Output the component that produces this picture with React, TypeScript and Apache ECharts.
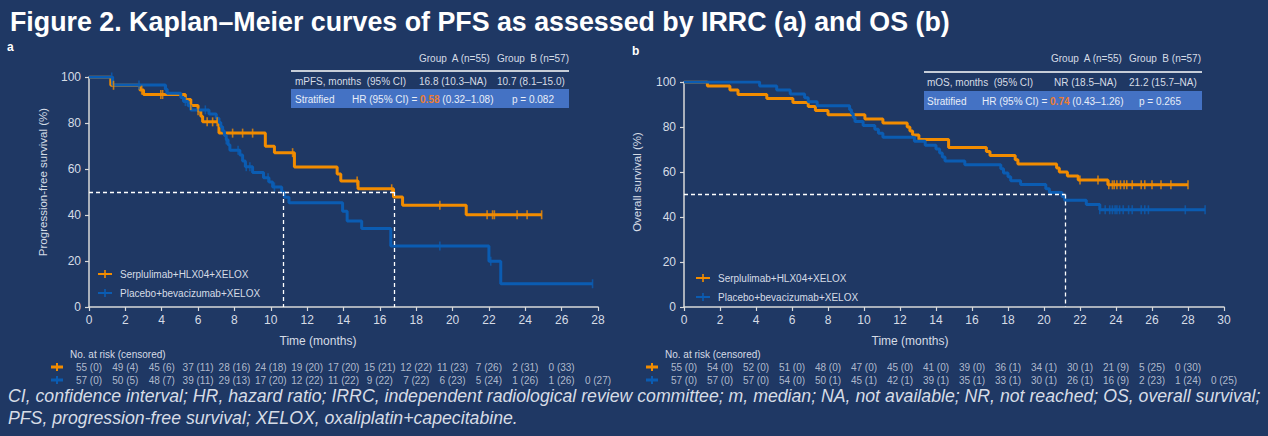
import React, { useEffect, useRef } from "react";
import * as echarts from "echarts";

// ---------- data ----------
const nameA = "Serplulimab+HLX04+XELOX";
const nameB = "Placebo+bevacizumab+XELOX";

// PFS (a) step curves [months, %]
const pfsA: number[][] = [
  [0, 100], [1.2, 96.4], [2.8, 94.3], [3.0, 92.4], [5.3, 90.2], [5.6, 87.6], [6.0, 85.3],
  [6.15, 82.9], [6.25, 80.5], [7.15, 75.6], [9.7, 69.9], [10.2, 67.1], [11.3, 60.9],
  [13.65, 57.8], [13.85, 54.8], [14.8, 51.4], [16.75, 47.8], [17.25, 44.2], [20.75, 40.1], [24.9, 40.1],
];
const pfsACensor: number[] = [1.35, 2.9, 3.95, 4.05, 5.6, 6.0, 6.5, 6.8, 7.05, 7.9, 8.45, 9.0, 11.2, 14.75, 16.65, 19.3, 21.9, 22.2, 22.3, 23.55, 24.1, 24.9];
const pfsB: number[][] = [
  [0, 100], [1.3, 96.5], [4.2, 94.7], [4.3, 92.9], [5.05, 91.1], [5.2, 89.3], [5.45, 87.5], [5.6, 85.7],
  [6.6, 83.9], [7.0, 82.1], [7.15, 80.2], [7.25, 78.4], [7.35, 76.5], [7.45, 74.6], [7.55, 72.7],
  [7.65, 70.5], [7.75, 68.1], [8.3, 66.1], [8.45, 63.5], [8.6, 61.0], [9.0, 58.5], [9.6, 56.2],
  [9.9, 54.3], [10.1, 52.2], [10.6, 50.0], [10.75, 47.7], [11.0, 45.3], [13.95, 41.6], [14.2, 37.4],
  [15.0, 34.1], [16.6, 26.5], [22.0, 19.9], [22.65, 10.1], [27.7, 10.1],
];
const pfsBCensor: number[] = [1.25, 2.75, 4.25, 5.3, 6.4, 7.55, 8.2, 8.65, 8.85, 9.85, 10.2, 19.3, 22.1, 27.7];

// OS (b)
const osA: number[][] = [
  [0, 100], [1.3, 98.2], [2.55, 96.4], [3.0, 94.5], [4.6, 92.7], [6.05, 90.9], [6.9, 89.1], [7.3, 87.3],
  [8.0, 85.5], [10.05, 83.6], [11.05, 81.8], [12.4, 80.0], [12.55, 78.2], [12.7, 76.4], [13.05, 74.5],
  [14.7, 70.9], [16.8, 69.1], [17.0, 67.3], [18.4, 65.5], [18.55, 63.6], [20.7, 61.8], [20.85, 60.0],
  [21.3, 58.2], [21.9, 56.4], [23.55, 54.3], [28.0, 54.3],
];
const osACensor: number[] = [22.0, 23.0, 23.6, 23.8, 23.9, 24.05, 24.25, 24.45, 24.6, 24.9, 25.4, 25.6, 26.0, 26.5, 27.05, 28.0];
const osB: number[][] = [
  [0, 100], [4.2, 98.2], [5.15, 96.5], [5.9, 94.7], [6.7, 93.0], [6.9, 91.2], [7.4, 89.5], [9.2, 87.7],
  [9.3, 86.0], [9.4, 84.2], [9.5, 82.5], [9.95, 80.7], [10.6, 79.0], [10.8, 77.2], [11.05, 75.4],
  [12.8, 73.7], [13.4, 71.9], [14.0, 70.2], [14.2, 68.4], [14.35, 66.7], [14.5, 64.9], [15.6, 63.2],
  [17.6, 61.4], [17.75, 59.6], [18.0, 57.9], [18.15, 56.1], [18.7, 54.4], [20.1, 52.6], [20.3, 50.9],
  [21.0, 49.1], [21.15, 47.4], [22.35, 45.6], [23.1, 43.2], [28.95, 43.2],
];
const osBCensor: number[] = [23.1, 23.4, 23.65, 23.8, 23.95, 24.05, 24.2, 24.4, 24.7, 24.9, 25.4, 25.6, 25.8, 27.85, 28.95];

// medians
const pfsMedians = [10.7, 16.8];
const osMedians = [21.2];

// numbers at risk
const riskTimesA = [0, 2, 4, 6, 8, 10, 12, 14, 16, 18, 20, 22, 24, 26, 28];
const riskPfsA = ["55 (0)", "49 (4)", "45 (6)", "37 (11)", "28 (16)", "24 (18)", "19 (20)", "17 (20)", "15 (21)", "12 (22)", "11 (23)", "7 (26)", "2 (31)", "0 (33)"];
const riskPfsB = ["57 (0)", "50 (5)", "48 (7)", "39 (11)", "29 (13)", "17 (20)", "12 (22)", "11 (22)", "9 (22)", "7 (22)", "6 (23)", "5 (24)", "1 (26)", "1 (26)", "0 (27)"];
const riskTimesB = [0, 2, 4, 6, 8, 10, 12, 14, 16, 18, 20, 22, 24, 26, 28, 30];
const riskOsA = ["55 (0)", "54 (0)", "52 (0)", "51 (0)", "48 (0)", "47 (0)", "45 (0)", "41 (0)", "39 (0)", "36 (1)", "34 (1)", "30 (1)", "21 (9)", "5 (25)", "0 (30)"];
const riskOsB = ["57 (0)", "57 (0)", "57 (0)", "54 (0)", "50 (1)", "45 (1)", "42 (1)", "39 (1)", "35 (1)", "33 (1)", "30 (1)", "26 (1)", "16 (9)", "2 (23)", "1 (24)", "0 (25)"];

const titleText = "Figure 2. Kaplan\u2013Meier curves of PFS as assessed by IRRC (a) and OS (b)";
const footLine1 = "CI, confidence interval; HR, hazard ratio; IRRC, independent radiological review committee; m, median; NA, not available; NR, not reached; OS, overall survival;";
const footLine2 = "PFS, progression-free survival; XELOX, oxaliplatin+capecitabine.";

// ---------- style ----------
const BG = "#1f3864";
const ORANGE = "#f28c00";
const BLUE = "#0b5cb2";
const TXT = "#d6dce6";
const AXIS = "#d9d9d9";
const BOX = "#4472c4";
const HRC = "#ed7d31";
const FONT = "'Liberation Sans', Arial, sans-serif";
const PLUS = "path://M0,4L10,4L10,6L0,6Z M4,0L6,0L6,10L4,10Z";

function censorPts(curve: number[][], times: number[]) {
  return times.map((t) => {
    let s = curve[0][1];
    for (const [x, y] of curve) if (x <= t + 1e-9) s = y;
    return [t, s];
  });
}

function txt(text: string, x: number, y: number, size: number, color: string, extra: any = {}) {
  return {
    type: "text",
    x,
    y,
    silent: true,
    style: { text, fill: color, fontSize: size, fontFamily: FONT, verticalAlign: "middle", align: "left", ...extra },
  };
}

function plusMark(cx: number, cy: number, color: string) {
  return [
    { type: "rect", silent: true, shape: { x: cx - 6, y: cy - 1.5, width: 12, height: 3 }, style: { fill: color } },
    { type: "rect", silent: true, shape: { x: cx - 1, y: cy - 4, width: 2, height: 8 }, style: { fill: color } },
  ];
}

export default function App() {
  const ref = useRef<HTMLDivElement>(null);
  useEffect(() => {
    if (!ref.current) return;
    const chart = echarts.init(ref.current, null, { renderer: "svg" });

    const axisCommon = {
      type: "value",
      axisLine: { show: true, lineStyle: { color: AXIS, width: 1.5 } },
      axisTick: { show: true, length: 4, lineStyle: { color: AXIS, width: 1.2 } },
      axisLabel: { color: TXT, fontSize: 12, fontFamily: FONT },
      splitLine: { show: false },
    };
    const dashed = { color: "#ffffff", width: 1.3, type: [4, 3] };

    const kmLine = (name: string, data: number[][], color: string, gi: number, markData?: any[]) => ({
      type: "line",
      name,
      xAxisIndex: gi,
      yAxisIndex: gi,
      data,
      step: "end",
      showSymbol: false,
      symbol: PLUS,
      symbolSize: 10,
      itemStyle: { color },
      lineStyle: { color, width: 3 },
      silent: true,
      z: color === BLUE ? 3 : 2,
      markLine: markData
        ? { silent: true, symbol: "none", label: { show: false }, lineStyle: dashed, data: markData }
        : undefined,
    });
    const censor = (data: number[][], color: string, gi: number) => ({
      type: "scatter",
      name: "c" + gi + color,
      xAxisIndex: gi,
      yAxisIndex: gi,
      data,
      symbol: "rect",
      symbolSize: [1.6, 9],
      itemStyle: { color },
      silent: true,
      z: color === BLUE ? 4 : 3,
    });
    const riskRow = (times: number[], labels: string[], yv: number, gi: number) => ({
      type: "scatter",
      name: "r" + gi + "-" + yv,
      xAxisIndex: gi,
      yAxisIndex: gi,
      data: labels.map((l, i) => [times[i], yv, l]),
      symbolSize: 0,
      silent: true,
      label: {
        show: true,
        position: "inside",
        formatter: (p: any) => p.value[2],
        color: TXT,
        fontSize: 10,
        fontFamily: FONT,
      },
    });

    const pfsMarks = [
      [{ coord: [0, 50] }, { coord: [pfsMedians[1], 50] }],
      ...pfsMedians.map((m) => [{ coord: [m, 50] }, { coord: [m, 0] }]),
    ];
    const osMarks = [
      [{ coord: [0, 50] }, { coord: [osMedians[0], 50] }],
      ...osMedians.map((m) => [{ coord: [m, 50] }, { coord: [m, 0] }]),
    ];

    const graphics: any[] = [
      txt(titleText, 10, 22, 26.8, "#ffffff", { fontWeight: "bold" }),
      txt("a", 7, 47, 12, "#ffffff", { fontWeight: "bold" }),
      txt("b", 632, 51, 12, "#ffffff", { fontWeight: "bold" }),
      // y axis names
      { ...txt("Progression-free survival (%)", 43, 182, 11.5, TXT, { align: "center" }), rotation: Math.PI / 2 },
      { ...txt("Overall survival (%)", 637, 182, 11.5, TXT, { align: "center" }), rotation: Math.PI / 2 },
      txt("Time (months)", 318, 341, 12, TXT, { align: "center" }),
      txt("Time (months)", 910, 341, 12, TXT, { align: "center" }),
      // table a
      txt("Group  A (n=55)", 419, 58, 10, TXT),
      txt("Group  B (n=57)", 497, 58, 10, TXT),
      { type: "line", silent: true, shape: { x1: 291, y1: 71, x2: 569, y2: 71 }, style: { stroke: "#ffffff", lineWidth: 1.5 } },
      txt("mPFS, months  (95% CI)", 295, 81, 10, TXT),
      txt("16.8 (10.3\u2013NA)", 419, 81, 10, TXT),
      txt("10.7 (8.1\u201315.0)", 497, 81, 10, TXT),
      { type: "rect", silent: true, shape: { x: 291, y: 89, width: 278, height: 19 }, style: { fill: BOX } },
      txt("Stratified", 295, 99, 10, "#e8eef8"),
      txt("{a|HR (95% CI) = }{o|0.58}{a| (0.32\u20131.08)}", 352, 99, 10, "#e8eef8", {
        rich: { a: { fill: "#e8eef8", fontSize: 10, fontFamily: FONT }, o: { fill: HRC, fontSize: 10, fontFamily: FONT, fontWeight: "bold" } },
      }),
      txt("p = 0.082", 512, 99, 10, "#e8eef8"),
      // table b
      txt("Group  A (n=55)", 1051, 58, 10, TXT),
      txt("Group  B (n=57)", 1129, 58, 10, TXT),
      { type: "line", silent: true, shape: { x1: 924, y1: 72, x2: 1202, y2: 72 }, style: { stroke: "#ffffff", lineWidth: 1.5 } },
      txt("mOS, months  (95% CI)", 927, 82, 10, TXT),
      txt("NR (18.5\u2013NA)", 1054, 82, 10, TXT),
      txt("21.2 (15.7\u2013NA)", 1129, 82, 10, TXT),
      { type: "rect", silent: true, shape: { x: 924, y: 91, width: 278, height: 19 }, style: { fill: BOX } },
      txt("Stratified", 927, 101, 10, "#e8eef8"),
      txt("{a|HR (95% CI) = }{o|0.74}{a| (0.43\u20131.26)}", 982, 101, 10, "#e8eef8", {
        rich: { a: { fill: "#e8eef8", fontSize: 10, fontFamily: FONT }, o: { fill: HRC, fontSize: 10, fontFamily: FONT, fontWeight: "bold" } },
      }),
      txt("p = 0.265", 1139, 101, 10, "#e8eef8"),
      // at risk
      txt("No. at risk (censored)", 70, 354, 10, TXT),
      txt("No. at risk (censored)", 665, 354, 10, TXT),
      ...plusMark(57, 367, ORANGE),
      ...plusMark(57, 380, BLUE),
      ...plusMark(652, 367, ORANGE),
      ...plusMark(652, 380, BLUE),
      // footnote
      txt(footLine1, 8, 396, 17.7, TXT, { fontStyle: "italic" }),
      txt(footLine2, 8, 418, 17.7, TXT, { fontStyle: "italic" }),
    ];

    const legendCommon = {
      data: [nameA, nameB],
      orient: "vertical",
      itemWidth: 14,
      itemHeight: 10,
      itemGap: 9,
      selectedMode: false,
      textStyle: { color: TXT, fontSize: 10, fontFamily: FONT, padding: [0, 0, 0, 3] },
    };

    chart.setOption({
      animation: false,
      backgroundColor: BG,
      textStyle: { fontFamily: FONT },
      grid: [
        { left: 89, top: 77, width: 509, height: 230 },
        { left: 684, top: 82, width: 540, height: 225 },
        { left: 89, top: 367, width: 509, height: 13 },
        { left: 684, top: 367, width: 540, height: 13 },
      ],
      xAxis: [
        { ...axisCommon, gridIndex: 0, min: 0, max: 28, interval: 2, axisLabel: { ...axisCommon.axisLabel, margin: 7 } },
        { ...axisCommon, gridIndex: 1, min: 0, max: 30, interval: 2, axisLabel: { ...axisCommon.axisLabel, margin: 7 } },
        { type: "value", gridIndex: 2, min: 0, max: 28, show: false },
        { type: "value", gridIndex: 3, min: 0, max: 30, show: false },
      ],
      yAxis: [
        { ...axisCommon, gridIndex: 0, min: 0, max: 100, interval: 20 },
        { ...axisCommon, gridIndex: 1, min: 0, max: 100, interval: 20 },
        { type: "value", gridIndex: 2, min: 0, max: 1, show: false },
        { type: "value", gridIndex: 3, min: 0, max: 1, show: false },
      ],
      legend: [
        { ...legendCommon, left: 92, top: 264 },
        { ...legendCommon, left: 690, top: 268 },
      ],
      series: [
        kmLine(nameA, pfsA, ORANGE, 0, pfsMarks),
        censor(censorPts(pfsA, pfsACensor), ORANGE, 0),
        kmLine(nameB, pfsB, BLUE, 0),
        censor(censorPts(pfsB, pfsBCensor), BLUE, 0),
        kmLine(nameA, osA, ORANGE, 1, osMarks),
        censor(censorPts(osA, osACensor), ORANGE, 1),
        kmLine(nameB, osB, BLUE, 1),
        censor(censorPts(osB, osBCensor), BLUE, 1),
        riskRow(riskTimesA, riskPfsA, 1, 2),
        riskRow(riskTimesA, riskPfsB, 0, 2),
        riskRow(riskTimesB, riskOsA, 1, 3),
        riskRow(riskTimesB, riskOsB, 0, 3),
      ],
      graphic: graphics,
    });
    return () => chart.dispose();
  }, []);
  return <div ref={ref} style={{ position: "fixed", left: 0, top: 0, width: 1268, height: 436 }} />;
}
